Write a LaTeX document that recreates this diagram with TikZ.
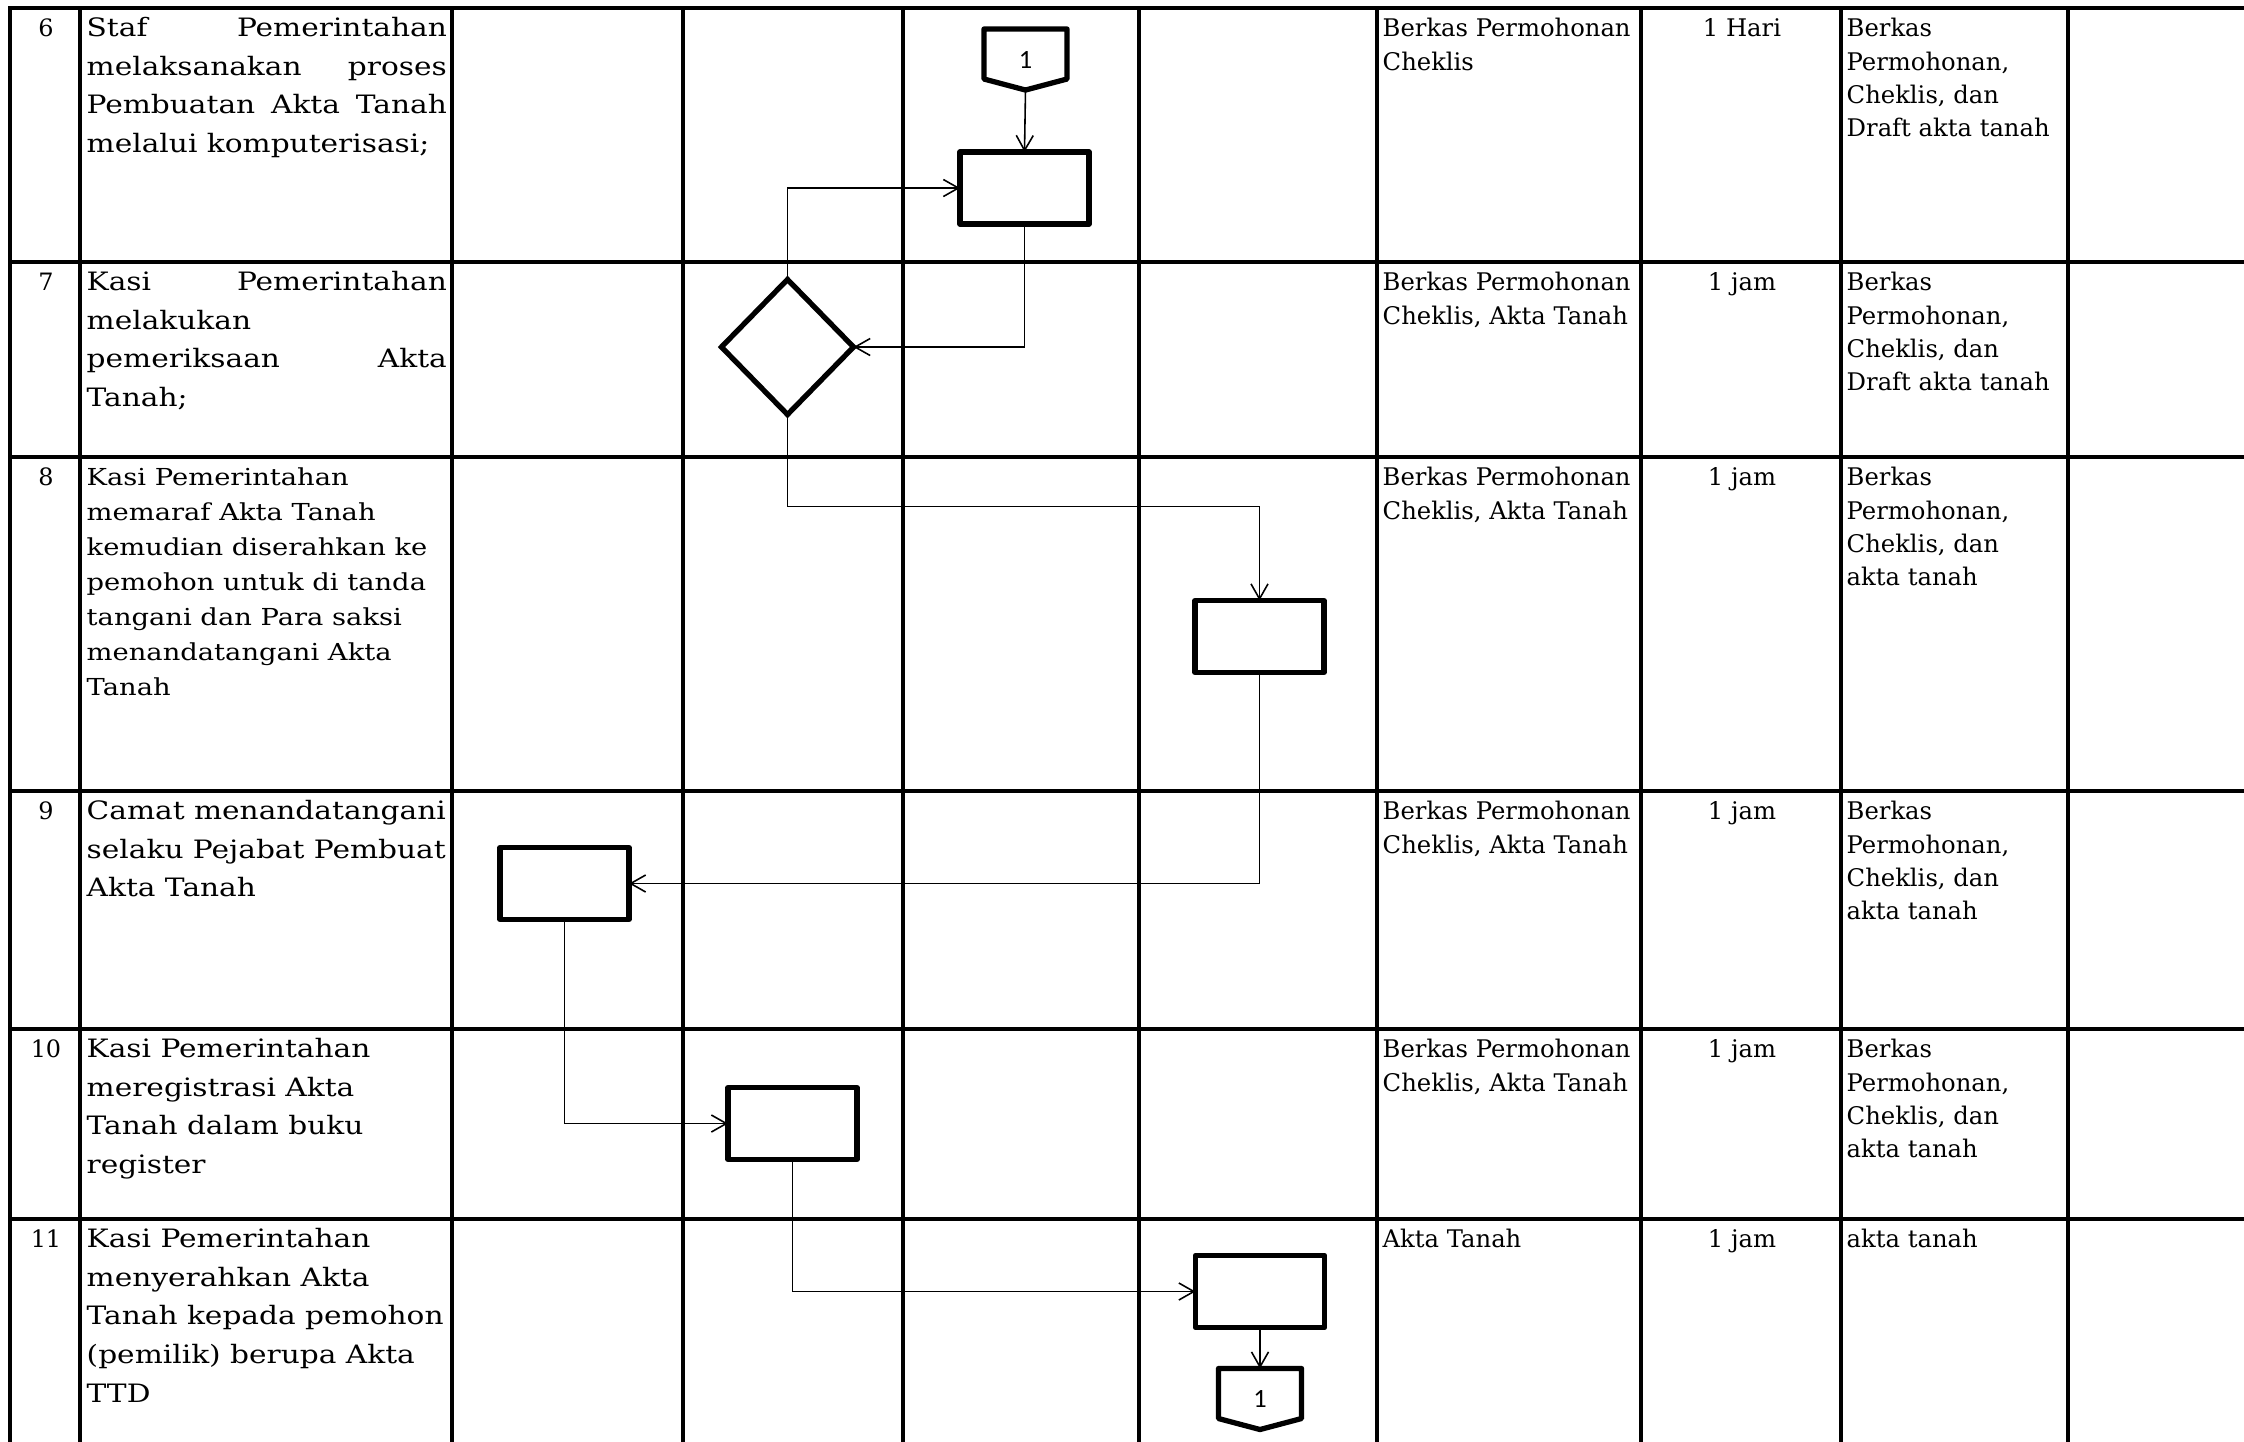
\documentclass[tikz,border=0pt]{standalone}
\usepackage{fontspec}
\setmainfont{DejaVu Serif}
\newfontfamily\lftfont[FakeStretch=1.17]{DejaVu Serif}
\newfontfamily\rgtfont{DejaVu Serif}
\newfontfamily\numfont{Carlito}
\usetikzlibrary{arrows.meta,shapes.geometric}
\newcommand\fst{\rule{0pt}{0.22cm}}
\newcommand\jst[1]{\makebox[3.6cm][s]{#1}}
\begin{document}
\begin{tikzpicture}[x=0.01cm,y=-0.01cm,
  gridline/.style={line width=1pt,line cap=rect},
  proc/.style={draw,line width=1.5pt,line join=round,minimum width=1.29cm,minimum height=0.72cm,inner sep=0pt,outer sep=0pt},
  dec/.style={draw,diamond,aspect=1,line width=1.5pt,minimum width=1.32cm,minimum height=1.35cm,inner sep=0pt,outer sep=0pt},
  offp/.style={minimum width=0.83cm,minimum height=0.61cm,inner sep=0pt,outer sep=0pt,font=\numfont\fontsize{7.5}{9}\selectfont},
  offpline/.style={line width=1.5pt,line join=round},
  flow/.style={line width=0.45pt,-{Straight Barb[length=0.15cm,width=0.17cm]}},
  ltxt/.style={anchor=north west,inner sep=0pt,align=left,font=\lftfont\fontsize{7.2}{10.98}\selectfont},
  stxt/.style={anchor=north west,inner sep=0pt,align=left,font=\lftfont\fontsize{6.65}{9.96}\selectfont},
  rtxt/.style={anchor=north west,inner sep=0pt,align=left,font=\rgtfont\fontsize{6.9}{9.5}\selectfont},
  ctxt/.style={anchor=base,inner sep=0pt,font=\rgtfont\fontsize{6.9}{9.5}\selectfont},
  ntxt/.style={anchor=base,inner sep=0pt,font=\rgtfont\fontsize{6.8}{8}\selectfont}
]
\fill[white] (0,0) rectangle (2244,1441);
\useasboundingbox (0,0) rectangle (2244,1441);

% grid
\foreach \x in {10,80,452,683,903,1139,1377,1641,1841,2068}
  \draw[gridline] (\x,8) -- (\x,1445);
\foreach \y in {8,262,457,791,1029,1219}
  \draw[gridline] (10,\y) -- (2250,\y);

% row numbers
\node[ntxt] (n6) at (46,36) {6};
\node[ntxt] (n7) at (46,290) {7};
\node[ntxt] (n8) at (46,485) {8};
\node[ntxt] (n9) at (46,819) {9};
\node[ntxt] (n10) at (46,1057) {10};
\node[ntxt] (n11) at (46,1247) {11};

% activity texts
\node[ltxt] (a6) at (86,14) {\fst\jst{Staf Pemerintahan}\\\jst{melaksanakan proses}\\\jst{Pembuatan Akta Tanah}\\melalui komputerisasi;};
\node[ltxt] (a7) at (86,268) {\fst\jst{Kasi Pemerintahan}\\melakukan\\\jst{pemeriksaan Akta}\\Tanah;};
\node[stxt] (a8) at (86,463) {\fst Kasi Pemerintahan\\memaraf Akta Tanah\\kemudian diserahkan ke\\pemohon untuk di tanda\\tangani dan Para saksi\\menandatangani Akta\\Tanah};
\node[ltxt] (a9) at (86,797) {\fst Camat menandatangani\\selaku Pejabat Pembuat\\Akta Tanah};
\node[ltxt] (a10) at (86,1035) {\fst Kasi Pemerintahan\\meregistrasi Akta\\Tanah dalam buku\\register};
\node[ltxt] (a11) at (86,1225) {\fst Kasi Pemerintahan\\menyerahkan Akta\\Tanah kepada pemohon\\(pemilik) berupa Akta\\TTD};

% kelengkapan
\node[rtxt] (k6) at (1382,14) {\fst Berkas Permohonan\\Cheklis};
\node[rtxt] (k7) at (1382,268) {\fst Berkas Permohonan\\Cheklis, Akta Tanah};
\node[rtxt] (k8) at (1382,463) {\fst Berkas Permohonan\\Cheklis, Akta Tanah};
\node[rtxt] (k9) at (1382,797) {\fst Berkas Permohonan\\Cheklis, Akta Tanah};
\node[rtxt] (k10) at (1382,1035) {\fst Berkas Permohonan\\Cheklis, Akta Tanah};
\node[rtxt] (k11) at (1382,1225) {\fst Akta Tanah};

% waktu
\node[ctxt] (w6) at (1742,36) {1 Hari};
\node[ctxt] (w7) at (1742,290) {1 jam};
\node[ctxt] (w8) at (1742,485) {1 jam};
\node[ctxt] (w9) at (1742,819) {1 jam};
\node[ctxt] (w10) at (1742,1057) {1 jam};
\node[ctxt] (w11) at (1742,1247) {1 jam};

% output
\node[rtxt] (o6) at (1846,14) {\fst Berkas\\Permohonan,\\Cheklis, dan\\Draft akta tanah};
\node[rtxt] (o7) at (1846,268) {\fst Berkas\\Permohonan,\\Cheklis, dan\\Draft akta tanah};
\node[rtxt] (o8) at (1846,463) {\fst Berkas\\Permohonan,\\Cheklis, dan\\akta tanah};
\node[rtxt] (o9) at (1846,797) {\fst Berkas\\Permohonan,\\Cheklis, dan\\akta tanah};
\node[rtxt] (o10) at (1846,1035) {\fst Berkas\\Permohonan,\\Cheklis, dan\\akta tanah};
\node[rtxt] (o11) at (1846,1225) {\fst akta tanah};

% flowchart shapes
\node[offp] (c1) at (1025.5,59.5) {1};
\draw[offpline] (c1.north west) -- (c1.north east) -- ([yshift=0.11cm]c1.south east) -- (c1.south) -- ([yshift=0.11cm]c1.south west) -- cycle;
\node[proc] (b6) at (1024.5,188) {};
\node[dec] (d7) at (787.5,347) {};
\node[proc] (b8) at (1259.5,636.5) {};
\node[proc] (b9) at (564.5,883.5) {};
\node[proc] (b10) at (792.5,1123.5) {};
\node[proc] (b11) at (1260,1291.5) {};
\node[offp] (c2) at (1260,1399) {1};
\draw[offpline] (c2.north west) -- (c2.north east) -- ([yshift=0.11cm]c2.south east) -- (c2.south) -- ([yshift=0.11cm]c2.south west) -- cycle;

% connectors
\draw[flow] (c1.south) -- (b6.north);
\draw[flow] (b6.south) |- (d7.east);
\draw[flow] (d7.north) |- (b6.west);
\draw[flow] (d7.south) -- ++(0,92) -| (b8.north);
\draw[flow] (b8.south) |- (b9.east);
\draw[flow] (b9.south) |- (b10.west);
\draw[flow] (b10.south) |- (b11.west);
\draw[flow] (b11.south) -- (c2.north);
\end{tikzpicture}
\end{document}
